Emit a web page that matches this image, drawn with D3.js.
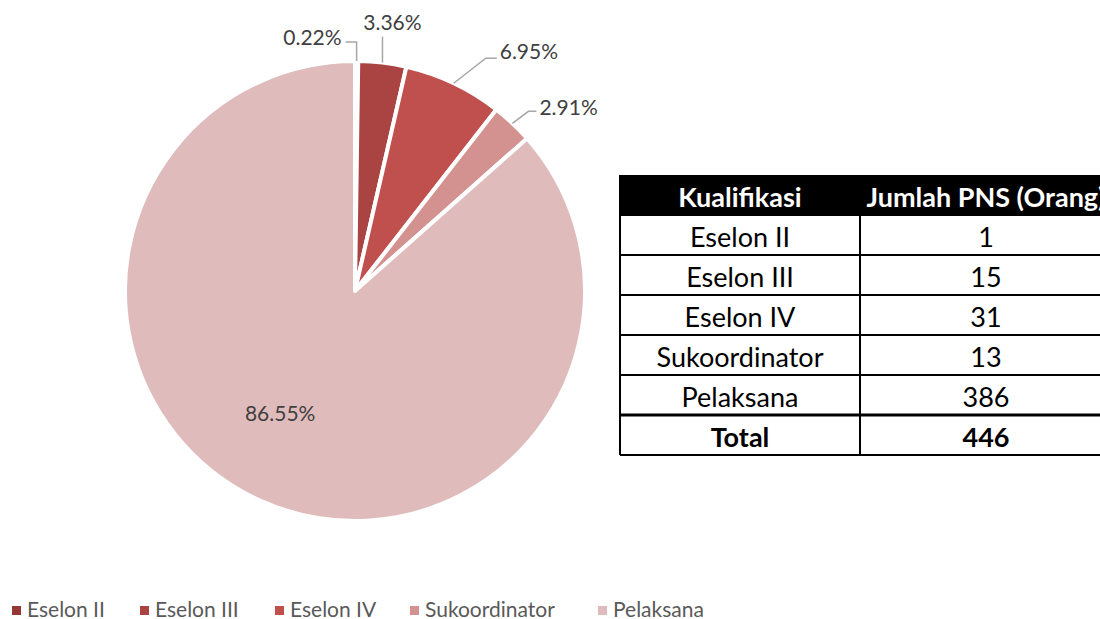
<!DOCTYPE html>
<html><head><meta charset="utf-8">
<script src="https://cdn.jsdelivr.net/npm/d3@7"></script>
<style>
html,body{margin:0;padding:0;background:#fff;}
svg{display:block;}
</style></head>
<body>
<svg id="c" width="1100" height="619"></svg>
<script>
const categories = ["Eselon II", "Eselon III", "Eselon IV", "Sukoordinator", "Pelaksana"];
const counts = [1, 15, 31, 13, 386];
const percentLabels = ["0.22%", "3.36%", "6.95%", "2.91%", "86.55%"];
const colors = ["#953735", "#A94442", "#C0504D", "#D3918F", "#E0BBBB"];
const tableHeader = ["Kualifikasi", "Jumlah PNS (Orang)"];
const totalLabel = "Total";
const totalValue = 446;

const svg = d3.select("#c");
const font = "Lato, 'Open Sans', sans-serif";

// ---- Pie ----
const cx = 355, cy = 291, R = 230;
const pie = d3.pie().sort(null).value(d => d)(counts);
const arc = d3.arc().innerRadius(0).outerRadius(R);
const g = svg.append("g").attr("transform", `translate(${cx},${cy})`);
g.selectAll("path.slice").data(pie).join("path")
  .attr("class", "slice")
  .attr("d", arc)
  .attr("fill", (d, i) => colors[i])
  .attr("stroke", "#fff")
  .attr("stroke-width", 4)
  .attr("stroke-linejoin", "round");

const labelLayout = [
  {up: 19, run: -11, elbowDx: 0},
  {up: 26, run: 0, elbowDx: 0},
  {up: 25, run: 11, elbowDx: 32},
  {up: 12, run: 8, elbowDx: 16}
];
const mid = d => (d.startAngle + d.endAngle) / 2;
pie.forEach((d, i) => {
  if (i === 4) {
    const a = mid(d) + 0.13, rr = R * 0.62;
    g.append("text")
      .attr("x", rr * Math.sin(a)).attr("y", -rr * Math.cos(a))
      .attr("text-anchor", "middle").attr("dominant-baseline", "central")
      .attr("font-family", font).attr("font-size", 21).attr("fill", "#404040")
      .text(percentLabels[i]);
    return;
  }
  const L = labelLayout[i];
  const a = mid(d);
  const px = R * Math.sin(a), py = -R * Math.cos(a);
  const ex = px + L.elbowDx, ey = py - L.up;
  const hx = ex + L.run;
  g.append("path")
    .attr("d", d3.line()([[px, py], [ex, ey], [hx, ey]]))
    .attr("fill", "none").attr("stroke", "#A6A6A6").attr("stroke-width", 1.5);
  let tx, ty, anchor;
  if (L.run < 0) { tx = hx - 4; ty = ey - 6; anchor = "end"; }
  else if (L.run === 0) { tx = hx + 10; ty = ey - 15; anchor = "middle"; }
  else { tx = hx + 3; ty = ey - (i === 2 ? 8 : 5); anchor = "start"; }
  g.append("text")
    .attr("x", tx).attr("y", ty)
    .attr("text-anchor", anchor).attr("dominant-baseline", "central")
    .attr("font-family", font).attr("font-size", 21).attr("fill", "#404040")
    .text(percentLabels[i]);
});

// ---- Table ----
const tX0 = 620, tX1 = 860, tX2 = 1112;
const rowH = 40, tY0 = 175;
const rows = categories.map((c, i) => [c, String(counts[i])]);
const allRows = [tableHeader, ...rows, [totalLabel, String(totalValue)]];
const yRow = d3.scaleLinear().domain([0, allRows.length]).range([tY0, tY0 + rowH * allRows.length]);
const tg = svg.append("g");
tg.append("rect").attr("x", tX0).attr("y", yRow(0)).attr("width", tX2 - tX0).attr("height", rowH).attr("fill", "#000");
allRows.forEach((r, i) => {
  const isHead = i === 0, isTotal = i === allRows.length - 1;
  [[tX0, tX1], [tX1, tX2]].forEach(([a, b], j) => {
    tg.append("text")
      .attr("x", (a + b) / 2).attr("y", yRow(i) + rowH / 2 + 1)
      .attr("text-anchor", "middle").attr("dominant-baseline", "central")
      .attr("font-family", font).attr("font-size", 27)
      .attr("font-weight", (isHead || isTotal) ? 700 : 400)
      .attr("fill", isHead ? "#fff" : "#000")
      .text(r[j]);
  });
});
d3.range(1, allRows.length + 1).forEach(i => {
  tg.append("line").attr("x1", tX0).attr("x2", tX2)
    .attr("y1", yRow(i)).attr("y2", yRow(i))
    .attr("stroke", "#000").attr("stroke-width", i === allRows.length - 1 ? 3 : 2);
});
[tX0, tX1].forEach(x => {
  tg.append("line").attr("x1", x).attr("x2", x)
    .attr("y1", yRow(0)).attr("y2", yRow(allRows.length))
    .attr("stroke", "#000").attr("stroke-width", 2);
});

// ---- Legend ----
const legendX = [12, 140, 275, 410, 598];
const lg = svg.append("g");
categories.forEach((c, i) => {
  lg.append("rect").attr("x", legendX[i]).attr("y", 606).attr("width", 9).attr("height", 9).attr("fill", colors[i]);
  lg.append("text").attr("x", legendX[i] + 15).attr("y", 617)
    .attr("font-family", font).attr("font-size", 21).attr("fill", "#595959")
    .text(c);
});
</script>
</body></html>
